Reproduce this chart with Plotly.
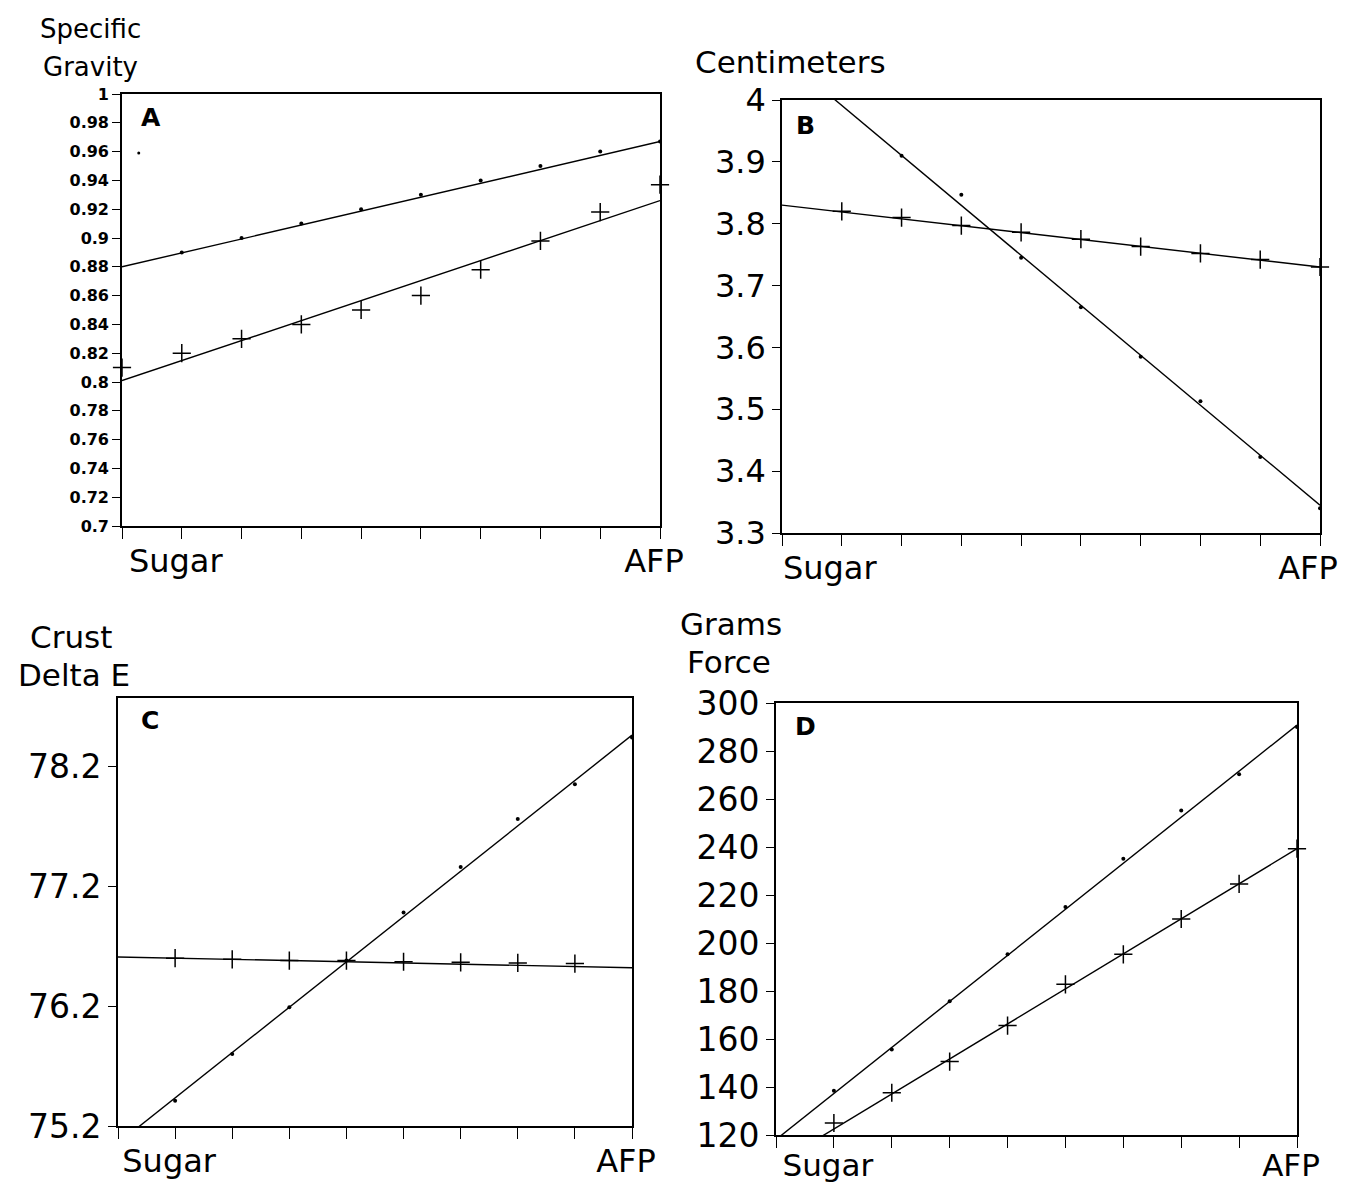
import plotly.graph_objects as go

# page body has an 8px margin, so the figure is 8px smaller than the window on each axis
W, H = 1338, 1176

# ---------------- data ----------------
x_pos = [0, 1, 2, 3, 4, 5, 6, 7, 8, 9]
x_labels = ["", "Sugar", "", "", "", "", "", "", "", "AFP"]

# Panel A  Specific Gravity
a_dot_x = [1, 2, 3, 4, 5, 6, 7, 8, 9]
a_dot_y = [0.89, 0.90, 0.91, 0.92, 0.93, 0.94, 0.95, 0.96, 0.967]
a_extra_x = [0.28]
a_extra_y = [0.959]
a_plus_x = [0, 1, 2, 3, 4, 5, 6, 7, 8, 9]
a_plus_y = [0.81, 0.82, 0.83, 0.84, 0.85, 0.86, 0.878, 0.898, 0.918, 0.937]
a_fit_dot = [0.880, 0.967]
a_fit_plus = [0.801, 0.926]
a_ticks = [0.7, 0.72, 0.74, 0.76, 0.78, 0.8, 0.82, 0.84, 0.86, 0.88, 0.9, 0.92, 0.94, 0.96, 0.98, 1]

# Panel B  Centimeters
b_dot_x = [2, 3, 4, 5, 6, 7, 8, 9]
b_dot_y = [3.91, 3.847, 3.745, 3.665, 3.585, 3.513, 3.423, 3.34]
b_plus_x = [1, 2, 3, 4, 5, 6, 7, 8, 9]
b_plus_y = [3.82, 3.81, 3.797, 3.786, 3.775, 3.763, 3.752, 3.742, 3.73]
b_fit_dot = [4.072, 3.345]
b_fit_plus = [3.83, 3.73]
b_ticks = [3.3, 3.4, 3.5, 3.6, 3.7, 3.8, 3.9, 4]

# Panel C  Crust Delta E
c_dot_x = [1, 2, 3, 4, 5, 6, 7, 8, 9]
c_dot_y = [75.41, 75.80, 76.19, 76.58, 76.98, 77.36, 77.76, 78.05, 78.44]
c_plus_x = [1, 2, 3, 4, 5, 6, 7, 8]
c_plus_y = [76.60, 76.59, 76.58, 76.58, 76.57, 76.565, 76.56, 76.555]
c_fit_dot = [75.056, 78.46]
c_fit_plus = [76.61, 76.52]
c_ticks = [75.2, 76.2, 77.2, 78.2]

# Panel D  Grams Force
d_dot_x = [1, 2, 3, 4, 5, 6, 7, 8, 9]
d_dot_y = [138.4, 155.6, 175.7, 195.3, 215.0, 235.1, 255.2, 270.3, 290.0]
d_plus_x = [1, 2, 3, 4, 5, 6, 7, 8, 9]
d_plus_y = [125.0, 137.6, 150.6, 165.6, 182.8, 195.3, 210.0, 224.6, 239.3]
d_fit_dot = [118.1, 290.8]
d_fit_plus = [107.9, 239.3]
d_ticks = [120, 140, 160, 180, 200, 220, 240, 260, 280, 300]

fit_x = [0, 9]

# ---------------- layout helpers ----------------
FONT = "DejaVu Sans, Verdana, sans-serif"

def xdom(x0, x1):
    return [x0 / W, x1 / W]

def ydom(top, bottom):
    return [1 - bottom / H, 1 - top / H]

panels = [
    # key, xdomain px, ydomain px, yrange, ticks, ytick size, bold, xtick size, xshift, xstandoff, data
    ("A", (114, 652), (86, 518), [0.7, 1.0], a_ticks, 16, True, 32, -6, -5,
     a_dot_x, a_dot_y, a_plus_x, a_plus_y, a_fit_dot, a_fit_plus),
    ("B", (774, 1312), (92, 525), [3.3, 4.0], b_ticks, 32, False, 32, -12, -5,
     b_dot_x, b_dot_y, b_plus_x, b_plus_y, b_fit_dot, b_fit_plus),
    ("C", (110, 624), (690, 1118), [75.2, 78.77], c_ticks, 33, False, 32, -6, -5,
     c_dot_x, c_dot_y, c_plus_x, c_plus_y, c_fit_dot, c_fit_plus),
    ("D", (768, 1289), (695, 1127), [120, 300], d_ticks, 33, False, 31, -6, -9,
     d_dot_x, d_dot_y, d_plus_x, d_plus_y, d_fit_dot, d_fit_plus),
]

fig = go.Figure()
layout = dict(
    template="none",
    width=W, height=H,
    margin=dict(l=0, r=0, t=0, b=0, autoexpand=False),
    paper_bgcolor="white", plot_bgcolor="white",
    showlegend=False,
    font=dict(family=FONT, color="black"),
)

for i, (key, xd, yd, yr, yt, tfs, bold, xfs, xsh, xso, dx, dy, px, py, fd, fp) in enumerate(panels):
    n = "" if i == 0 else str(i + 1)
    xa, ya = "x" + n, "y" + n
    fmt = (lambda v: "<b>%s</b>" % v) if bold else (lambda v: str(v))
    ytext = [fmt(("%g" % v)) for v in yt]
    layout["xaxis" + n] = dict(
        domain=xdom(*xd), range=[0, 9], anchor=ya, automargin=False,
        tickvals=x_pos, ticktext=x_labels, ticks="outside", ticklen=11,
        tickwidth=1.3, tickcolor="black", ticklabelshift=xsh, ticklabelstandoff=xso,
        showline=True, linecolor="black", linewidth=1.6, mirror=True,
        showgrid=False, zeroline=False,
        tickfont=dict(family=FONT, size=xfs, color="black"),
    )
    layout["yaxis" + n] = dict(
        domain=ydom(*yd), range=yr, anchor=xa, automargin=False,
        tickvals=yt, ticktext=ytext, ticks="outside", ticklen=8,
        tickwidth=1.3, tickcolor="black",
        showline=True, linecolor="black", linewidth=1.6, mirror=True,
        showgrid=False, zeroline=False,
        tickfont=dict(family=FONT, size=tfs, color="black"),
    )
    # fitted lines
    for fy in (fd, fp):
        fig.add_trace(go.Scatter(x=fit_x, y=fy, mode="lines", xaxis=xa, yaxis=ya,
                                 line=dict(color="black", width=1.4), hoverinfo="skip"))
    # dot markers
    fig.add_trace(go.Scatter(x=dx, y=dy, mode="markers", xaxis=xa, yaxis=ya,
                             marker=dict(symbol="circle", size=4, color="black"),
                             cliponaxis=False))
    # plus markers
    fig.add_trace(go.Scatter(x=px, y=py, mode="markers", xaxis=xa, yaxis=ya,
                             marker=dict(symbol="cross-thin", size=13,
                                         line=dict(color="black", width=1.5)),
                             cliponaxis=False))

# stray point in panel A
fig.add_trace(go.Scatter(x=a_extra_x, y=a_extra_y, mode="markers", xaxis="x", yaxis="y",
                         marker=dict(symbol="circle", size=3, color="black")))

annotations = []

def txt(x, y, s, size, bold=False, anchor="center"):
    annotations.append(dict(
        x=x / W, y=1 - y / H, xref="paper", yref="paper", text=("<b>%s</b>" % s) if bold else s,
        showarrow=False, xanchor=anchor, yanchor="middle",
        font=dict(family=FONT, size=size, color="black")))

# axis titles
txt(82, 21, "Specific", 26)
txt(82, 59, "Gravity", 26)
txt(782, 54, "Centimeters", 31)
txt(63, 629, "Crust", 31)
txt(66, 667, "Delta E", 31)
txt(723, 616, "Grams", 31)
txt(721, 654, "Force", 31)
# panel letters
txt(143, 109, "A", 25, bold=True)
txt(798, 117, "B", 25, bold=True)
txt(142, 712, "C", 25, bold=True)
txt(798, 718, "D", 25, bold=True)

layout["annotations"] = annotations
fig.update_layout(**layout)
fig.write_html("out.html")
